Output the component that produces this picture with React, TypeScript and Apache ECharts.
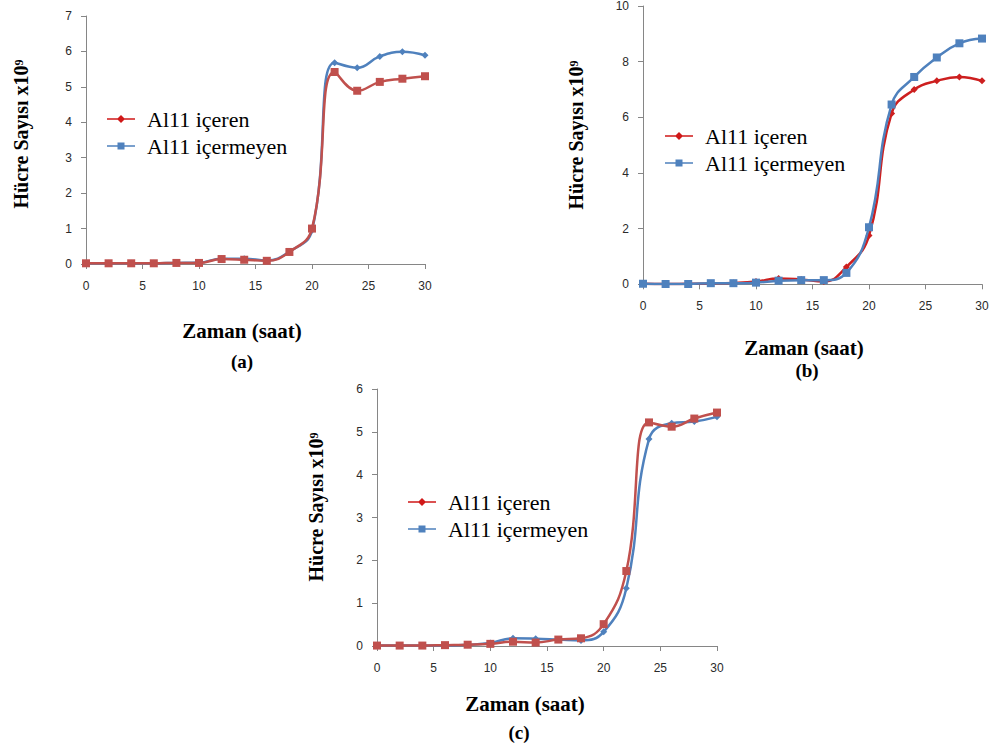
import React, { useEffect, useRef } from "react";
import * as echarts from "echarts";

// Time points (saat)
const hours = [0, 2, 4, 6, 8, 10, 12, 14, 16, 18, 20, 22, 24, 26, 28, 30];

// Panel (a)
const aIceren = [0.02, 0.02, 0.02, 0.02, 0.03, 0.03, 0.14, 0.12, 0.09, 0.34, 1.0, 5.42, 4.89, 5.14, 5.23, 5.3];
const aIcermeyen = [0.02, 0.02, 0.02, 0.02, 0.03, 0.04, 0.15, 0.15, 0.1, 0.35, 0.95, 5.68, 5.54, 5.86, 5.99, 5.89];
// Panel (b)
const bIceren = [0.02, 0.01, 0.02, 0.03, 0.05, 0.1, 0.21, 0.17, 0.1, 0.62, 1.75, 6.14, 7.0, 7.31, 7.45, 7.31];
const bIcermeyen = [0.02, 0.01, 0.01, 0.04, 0.04, 0.06, 0.13, 0.15, 0.15, 0.41, 2.05, 6.46, 7.45, 8.15, 8.66, 8.83];
// Panel (c)
const cIceren = [0.01, 0.01, 0.01, 0.02, 0.03, 0.05, 0.1, 0.08, 0.15, 0.18, 0.51, 1.75, 5.22, 5.12, 5.31, 5.45];
const cIcermeyen = [0.01, 0.01, 0.01, 0.01, 0.03, 0.07, 0.18, 0.17, 0.15, 0.13, 0.33, 1.35, 4.83, 5.2, 5.24, 5.35];

const seriesNames = ["Al11 içeren", "Al11 içermeyen"];
const xTitle = "Zaman (saat)";
const yTitle = "Hücre Sayısı x10⁹";
const panelLabels = ["(a)", "(b)", "(c)"];
const yMax = [7, 10, 6];
const yStep = [1, 2, 1];
const xMax = 30;
const xStep = 5;

const RED = "#C0504D";
const RED_B = "#CD1F1F";
const BLUE = "#4F81BD";
const LEGEND_RED = "#D01818";

const grids = [
  { left: 86, top: 16, width: 339, height: 248 },
  { left: 643, top: 3.3, width: 339, height: 281 },
  { left: 377, top: 389, width: 340, height: 257 },
];

const legendPos = [
  { left: 107, top: 108 },
  { left: 665, top: 125 },
  { left: 408, top: 491 },
];

const titlePos = [
  { xt: [242, 331], pl: [242, 361], yt: [21, 134] },
  { xt: [804, 348], pl: [807, 370], yt: [576, 135] },
  { xt: [525, 704], pl: [519, 732], yt: [316, 507] },
];

const diamondIcon = "path://M0,3.2H28V4.8H0Z M14,0L18,4L14,8L10,4Z";
const squareIcon = "path://M0,3.2H28V4.8H0Z M10.5,0.5H17.5V7.5H10.5Z";

function toPairs(vals: number[]) {
  return hours.map((h, i) => [h, vals[i]]);
}

export default function App() {
  const ref = useRef<HTMLDivElement>(null);
  useEffect(() => {
    if (!ref.current) return;
    const chart = echarts.init(ref.current, undefined, { renderer: "svg" });

    const axisCommon = {
      axisLine: { show: true, lineStyle: { color: "#868686", width: 1 } },
      axisTick: { show: true, length: 5, inside: false, lineStyle: { color: "#868686" } },
      splitLine: { show: false },
      axisLabel: { color: "#2a2a2a", fontFamily: "Liberation Sans", fontSize: 12, margin: 16 },
    };

    const xAxis = grids.map((_, i) => ({
      type: "value",
      gridIndex: i,
      min: 0,
      max: xMax,
      interval: xStep,
      ...axisCommon,
    }));
    const yAxis = grids.map((_, i) => ({
      type: "value",
      gridIndex: i,
      min: 0,
      max: yMax[i],
      interval: yStep[i],
      ...axisCommon,
      axisLabel: { ...axisCommon.axisLabel, margin: 14 },
    }));

    const mk = (name: string, vals: number[], idx: number, color: string, symbol: string, size: number, z: number) => ({
      type: "line",
      name,
      xAxisIndex: idx,
      yAxisIndex: idx,
      data: toPairs(vals),
      smooth: 0.45,
      symbol,
      symbolSize: size,
      showSymbol: true,
      z,
      lineStyle: { color, width: 2.5 },
      itemStyle: { color },
      emphasis: { disabled: true },
    });

    const series = [
      // (a): blue below, red on top; red squares, blue diamonds
      mk(seriesNames[1], aIcermeyen, 0, BLUE, "diamond", 7, 2),
      mk(seriesNames[0], aIceren, 0, RED, "rect", 8, 3),
      // (b): red below with diamonds, blue on top with squares
      mk(seriesNames[0], bIceren, 1, RED_B, "diamond", 7, 2),
      mk(seriesNames[1], bIcermeyen, 1, BLUE, "rect", 8, 3),
      // (c): blue below with diamonds, red on top with squares
      mk(seriesNames[1], cIcermeyen, 2, BLUE, "diamond", 7, 2),
      mk(seriesNames[0], cIceren, 2, RED, "rect", 8, 3),
    ];

    const legend = legendPos.map((p) => ({
      orient: "vertical",
      left: p.left,
      top: p.top,
      padding: 0,
      itemGap: 5,
      itemWidth: 28,
      itemHeight: 8,
      selectedMode: false,
      textStyle: { fontFamily: "Liberation Serif", fontSize: 22, color: "#000", padding: [0, 0, 0, 7] },
      data: [
        { name: seriesNames[0], icon: diamondIcon, itemStyle: { color: LEGEND_RED } },
        { name: seriesNames[1], icon: squareIcon, itemStyle: { color: BLUE } },
      ],
    }));

    const graphic: any[] = [];
    titlePos.forEach((t, i) => {
      graphic.push({
        type: "text",
        x: t.xt[0],
        y: t.xt[1],
        style: {
          text: xTitle,
          fontFamily: "Liberation Serif",
          fontWeight: "bold",
          fontSize: 21,
          fill: "#000",
          align: "center",
          verticalAlign: "middle",
        },
      });
      graphic.push({
        type: "text",
        x: t.pl[0],
        y: t.pl[1],
        style: {
          text: panelLabels[i],
          fontFamily: "Liberation Serif",
          fontWeight: "bold",
          fontSize: 19,
          fill: "#000",
          align: "center",
          verticalAlign: "middle",
        },
      });
      graphic.push({
        type: "text",
        x: t.yt[0],
        y: t.yt[1],
        rotation: Math.PI / 2,
        style: {
          text: yTitle,
          fontFamily: "Liberation Serif",
          fontWeight: "bold",
          fontSize: 20,
          fill: "#000",
          align: "center",
          verticalAlign: "middle",
        },
      });
    });

    chart.setOption({
      animation: false,
      backgroundColor: "#fff",
      grid: grids.map((g) => ({ ...g, containLabel: false })),
      xAxis,
      yAxis,
      series,
      legend,
      graphic,
    });
    return () => chart.dispose();
  }, []);

  return (
    <div
      ref={ref}
      style={{ position: "fixed", left: 0, top: 0, width: 994, height: 751, background: "#fff" }}
    />
  );
}
